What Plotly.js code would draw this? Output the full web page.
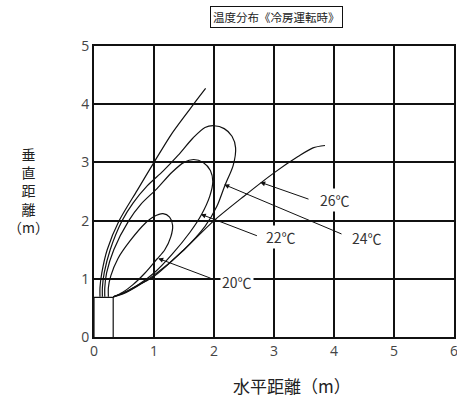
<!DOCTYPE html>
<html><head><meta charset="utf-8">
<script src="https://cdn.plot.ly/plotly-3.0.1.min.js"></script>
<style>html,body{margin:0;padding:0;background:#fff}#c{width:457px;height:408px}</style>
</head><body><div id="c"></div>
<script>
// Outlet box
const boxX = [0, 0, 0.32, 0.32];
const boxY = [0, 0.68, 0.68, 0];
// 26℃ (open curve: left arm, gap, right arm)
const t26x = [1.86,1.66,1.3,1.0,0.72,0.42,0.22,0.13,0.1,0.1,null,0.32,0.5,0.75,1.0,1.5,2.0,2.5,3.0,3.4,3.65,3.85];
const t26y = [4.27,4.0,3.5,3.0,2.52,2.0,1.5,1.1,0.85,0.69,null,0.69,0.76,0.9,1.04,1.5,2.0,2.42,2.82,3.1,3.25,3.29];
// 24℃ loop
const t24x = [0.14,0.14,0.17,0.27,0.47,0.65,0.89,1.15,1.4,1.65,1.85,2.0,2.17,2.3,2.36,2.32,2.18,2.05,1.85,1.5,1.0,0.7,0.5,0.32];
const t24y = [0.69,0.85,1.1,1.5,2.0,2.3,2.6,2.85,3.12,3.42,3.6,3.63,3.58,3.45,3.25,2.95,2.6,2.25,1.9,1.5,1.06,0.86,0.75,0.69];
// 22℃ loop
const t22x = [0.18,0.18,0.21,0.33,0.58,0.78,1.05,1.3,1.5,1.66,1.82,1.94,1.98,1.93,1.79,1.6,1.3,1.0,0.7,0.5,0.32];
const t22y = [0.69,0.85,1.1,1.5,2.0,2.28,2.55,2.83,3.0,3.05,3.0,2.86,2.67,2.42,2.1,1.8,1.42,1.1,0.87,0.76,0.69];
// 20℃ loop
const t20x = [0.24,0.24,0.28,0.4,0.6,0.85,1.0,1.15,1.26,1.31,1.28,1.18,1.05,0.85,0.65,0.48,0.32];
const t20y = [0.69,0.85,1.05,1.35,1.65,1.95,2.07,2.12,2.06,1.92,1.72,1.5,1.34,1.1,0.9,0.77,0.69];
// labels
const labels = ['26℃','24℃','22℃','20℃'];
const labelX = [4.02,4.55,3.12,2.38];
const labelY = [2.35,1.70,1.72,0.95];
const arrowTipX = [2.77,2.17,1.78,1.07];
const arrowTipY = [2.66,2.62,2.11,1.35];
const arrowTailX = [3.6,4.15,2.74,1.97];
const arrowTailY = [2.36,1.76,1.73,1.0];

const lineStyle = {color:'#111', width:1.2, shape:'spline', smoothing:0.8};
const traces = [
  {x:boxX, y:boxY, mode:'lines', line:{color:'#111', width:1.2}, hoverinfo:'skip'},
  {x:t26x, y:t26y, mode:'lines', line:lineStyle, connectgaps:false},
  {x:t24x, y:t24y, mode:'lines', line:lineStyle},
  {x:t22x, y:t22y, mode:'lines', line:lineStyle},
  {x:t20x, y:t20y, mode:'lines', line:lineStyle}
];
const ann = [];
for (let i=0;i<labels.length;i++){
  ann.push({x:arrowTipX[i], y:arrowTipY[i], ax:arrowTailX[i], ay:arrowTailY[i], axref:'x', ayref:'y', xref:'x', yref:'y',
    text:'', showarrow:true, arrowhead:2, arrowsize:1, arrowwidth:1, arrowcolor:'#111', standoff:0});
  ann.push({x:labelX[i], y:labelY[i], xref:'x', yref:'y', text:labels[i], showarrow:false, bgcolor:'#fff',
    font:{family:'Noto Sans CJK JP', size:14, color:'#333'}, borderpad:1});
}
ann.push({xref:'paper', yref:'paper', x:0.508, y:1.1, xanchor:'center', yanchor:'middle', text:'温度分布《冷房運転時》', showarrow:false,
  bordercolor:'#111', borderwidth:1, borderpad:2, font:{family:'Noto Sans CJK JP', size:11.5, color:'#222'}});
ann.push({xref:'paper', yref:'paper', x:-0.183, y:0.505, xanchor:'center', yanchor:'middle', text:'垂<br>直<br>距<br>離<br>（m）', showarrow:false,
  font:{family:'Noto Sans CJK JP', size:14, color:'#222'}, align:'center'});
ann.push({xref:'paper', yref:'paper', x:0.55, y:-0.165, xanchor:'center', yanchor:'middle', text:'水平距離（m）', showarrow:false,
  font:{family:'Noto Sans CJK JP', size:17, color:'#222'}});

const axisBase = {showgrid:true, gridcolor:'#111', gridwidth:2, zeroline:false, showline:true, linecolor:'#111', linewidth:2, mirror:true,
  tickfont:{family:'Open Sans', size:14, color:'#444'}, dtick:1, ticks:'', fixedrange:true, ticklabeloverflow:'allow'};
const layout = {
  width:457, height:408, margin:{l:94, r:3, t:46, b:71},
  paper_bgcolor:'#fff', plot_bgcolor:'#fff', showlegend:false,
  xaxis:Object.assign({}, axisBase, {range:[0,6], tick0:0}),
  yaxis:Object.assign({}, axisBase, {range:[0,5], tick0:0}),
  annotations:ann
};
Plotly.newPlot('c', traces, layout, {staticPlot:true});
</script></body></html>
